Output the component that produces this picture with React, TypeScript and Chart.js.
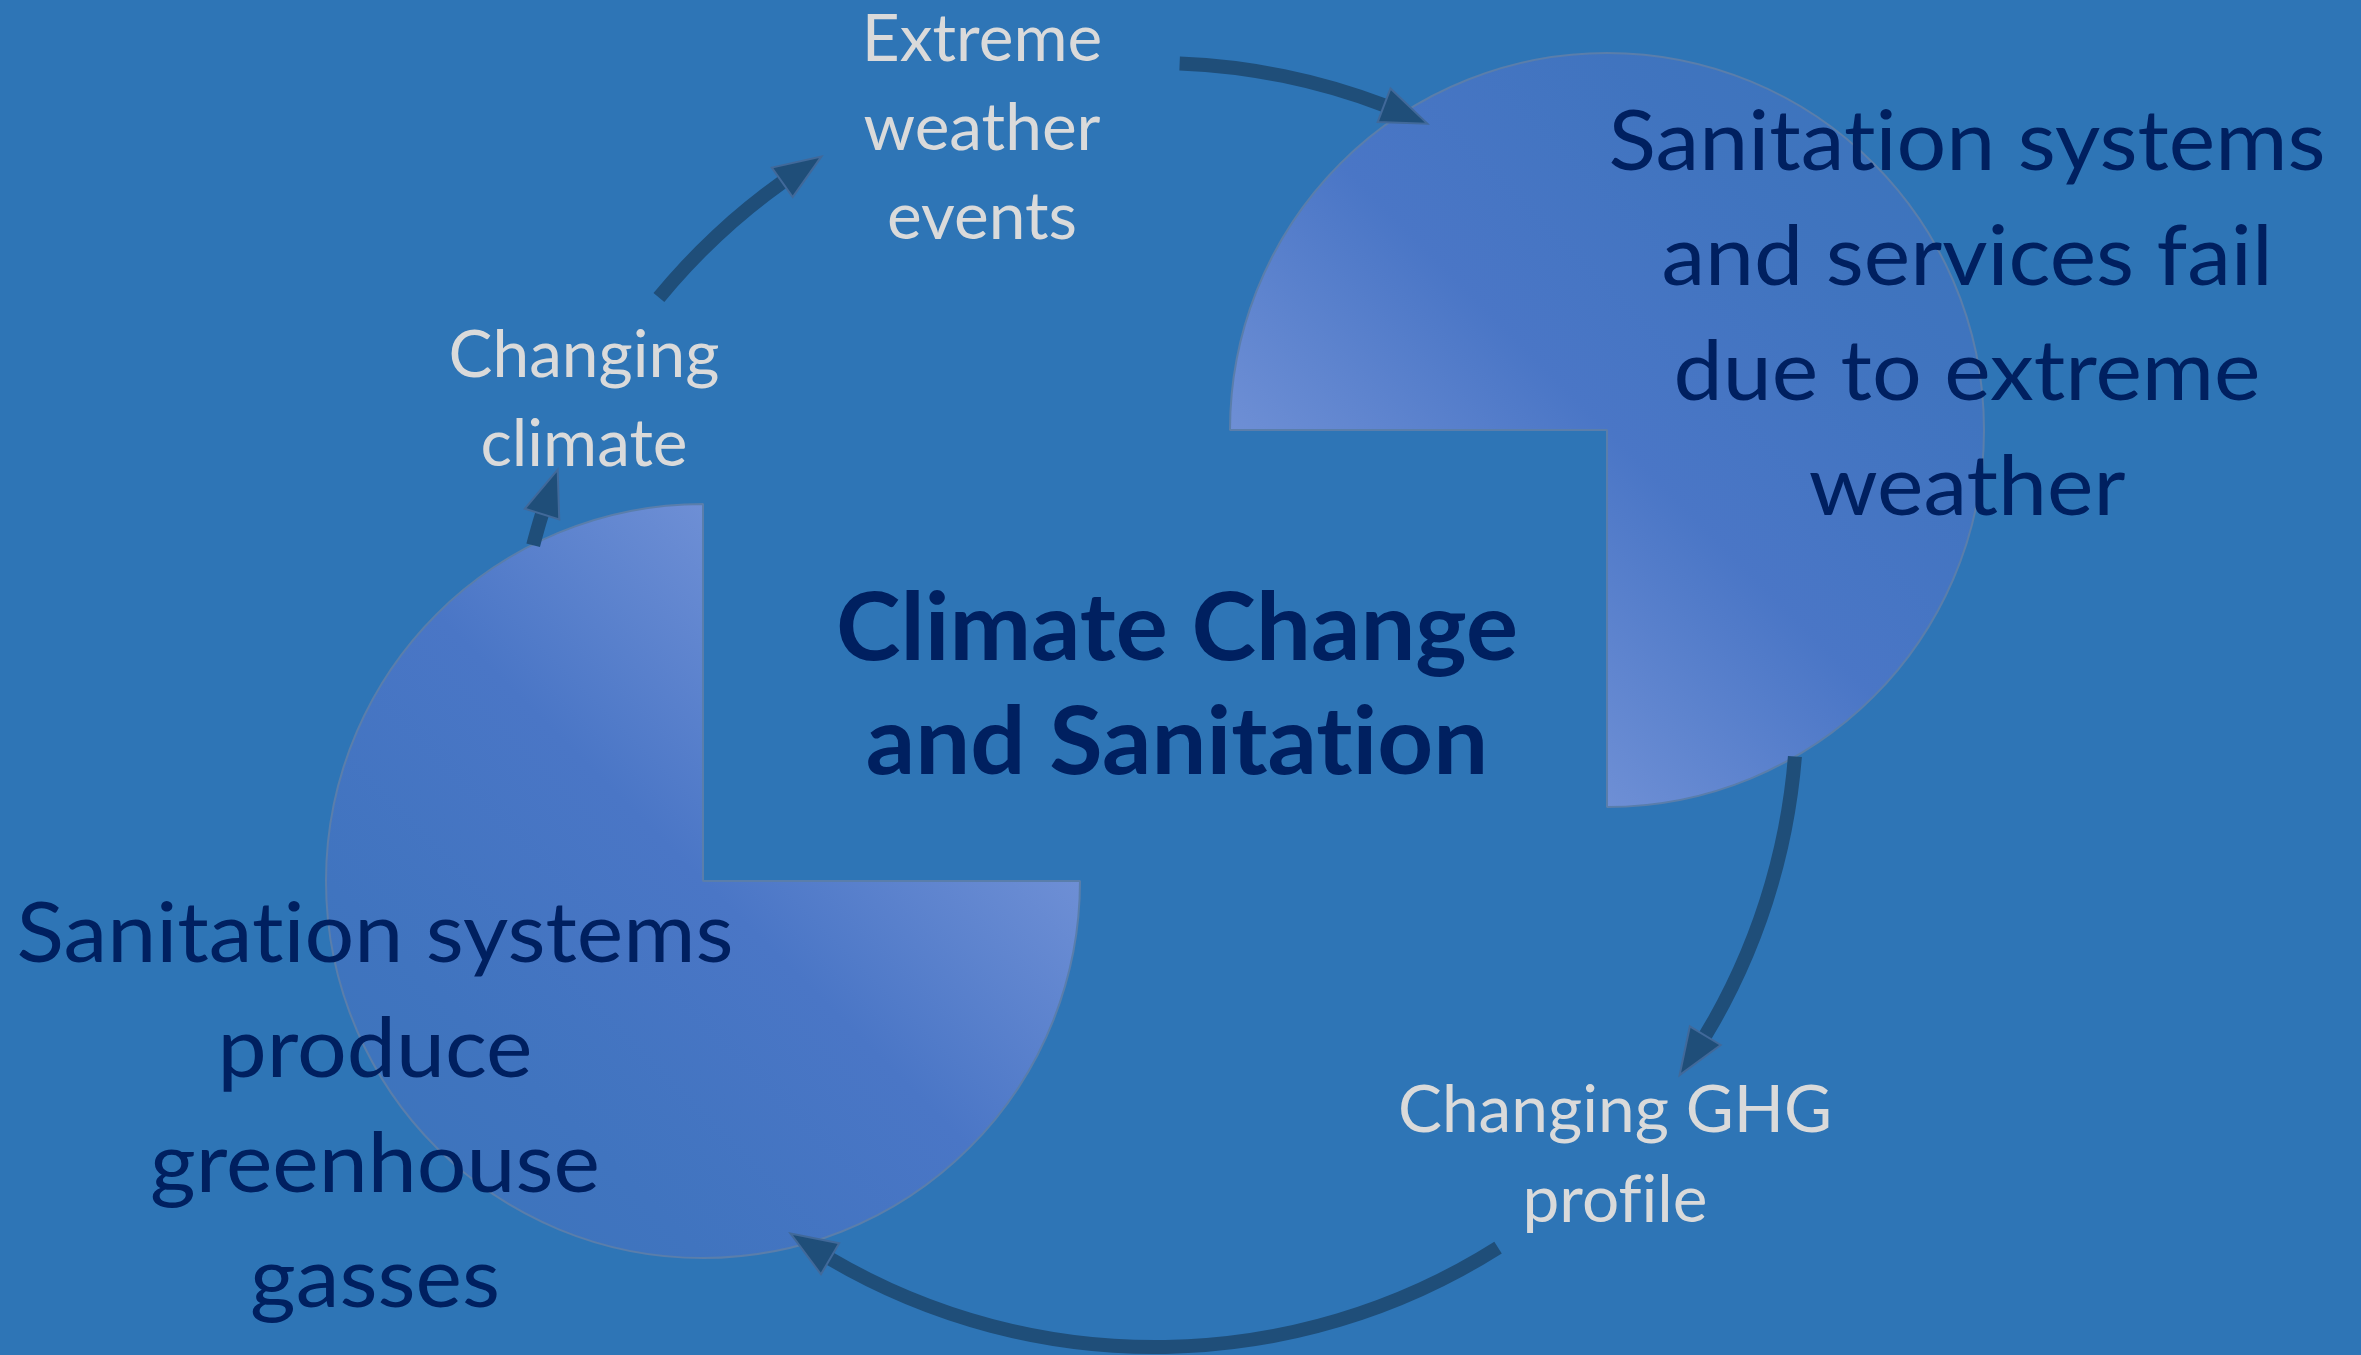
import React, { useEffect, useRef } from 'react';
import { Chart, registerables } from 'chart.js';

Chart.register(...registerables);

// ---------------- data ----------------
// each "pie" is a circle with one quarter left out
const pieSlices = [25, 75];
// cycle arrows along the big ring: start angle and tip angle (degrees, clockwise from 12 o'clock)
const arrowStartDeg = [2.2, 94.6, 147.7, 284.4, 309.4];
const arrowTipDeg = [25.1, 125.2, 214.6, 291.5, 328.7];
// texts
const leftPieLines = ['Sanitation systems', 'produce', 'greenhouse', 'gasses'];
const rightPieLines = ['Sanitation systems', 'and services fail', 'due to extreme', 'weather'];
const centerLines = ['Climate Change', 'and Sanitation'];
const stepExtremeLines = ['Extreme', 'weather', 'events'];
const stepClimateLines = ['Changing', 'climate'];
const stepGhgLines = ['Changing GHG', 'profile'];

// ---------------- layout / style ----------------
const W = 2361;
const H = 1355;
const BG = '#2e75b6';
const ARROW = '#1f4e79';
const ARROW_EDGE = '#41699a';
const RING = { cx: 1155, cy: 705, r: 642, thick: 14 };
const HEAD_LEN = 47;
const HEAD_W = 36;
const PIE_R = 377;
const PIE_PAD = 10;
const LEFT_PIE = { cx: 703, cy: 881, rotation: 0, flip: false };
const RIGHT_PIE = { cx: 1607, cy: 430, rotation: 180, flip: true };
const NAVY = '#002060';
const GREY = '#dadada';

const STYLES = {
  navy: { font: '84px Lato', color: NAVY, ref: 'Sanitation systems', refW: 717 },
  bold: { font: 'bold 93px Lato', color: NAVY, ref: 'Climate Change', refW: 682 },
  grey: { font: '65px Lato', color: GREY, ref: 'Changing GHG', refW: 434 },
};

const TEXT_BLOCKS = [
  { lines: stepExtremeLines, style: 'grey', x: 982, y0: 61, dy: 89 },
  { lines: stepClimateLines, style: 'grey', x: 584, y0: 377, dy: 89 },
  { lines: stepGhgLines, style: 'grey', x: 1615, y0: 1132, dy: 90 },
  { lines: rightPieLines, style: 'navy', x: 1967, y0: 170, dy: 115 },
  { lines: leftPieLines, style: 'navy', x: 375, y0: 962, dy: 115 },
  { lines: centerLines, style: 'bold', x: 1177, y0: 660, dy: 114 },
];

const TRANSPARENT = 'rgba(0,0,0,0)';
const ZWNJ = '\u200C';

// keep letters separate (no "ti"/"fi" ligatures, as in the original typeface)
function noLig(s: string) {
  return s.replace(/t(?=i)/g, 't' + ZWNJ).replace(/f(?=i)/g, 'f' + ZWNJ);
}

function buildRing() {
  const values: number[] = [];
  const colors: string[] = [];
  const arrowIdx: number[] = [];
  const headDeg = (HEAD_LEN / RING.r) * (180 / Math.PI);
  let cur = 0;
  arrowStartDeg.forEach((s, i) => {
    const stemEnd = arrowTipDeg[i] - headDeg;
    if (s > cur) {
      values.push(s - cur);
      colors.push(TRANSPARENT);
    }
    arrowIdx.push(values.length);
    values.push(stemEnd - s);
    colors.push(ARROW);
    cur = stemEnd;
  });
  values.push(360 - cur);
  colors.push(TRANSPARENT);
  return { values, colors, arrowIdx };
}

const arrowHeadPlugin = {
  id: 'arrowHeads',
  afterDatasetsDraw(chart: any) {
    const meta = chart.getDatasetMeta(0);
    const idxs: number[] = chart.options.plugins.arrowHeads.indices;
    const ctx = chart.ctx;
    ctx.save();
    idxs.forEach((i) => {
      const el: any = meta.data[i];
      if (!el) return;
      const { x, y, endAngle, outerRadius, innerRadius } = el;
      const r = (outerRadius + innerRadius) / 2;
      const bx = x + r * Math.cos(endAngle);
      const by = y + r * Math.sin(endAngle);
      const tipA = endAngle + HEAD_LEN / r;
      const tx = x + r * Math.cos(tipA);
      const ty = y + r * Math.sin(tipA);
      const nx = Math.cos(endAngle);
      const ny = Math.sin(endAngle);
      ctx.beginPath();
      ctx.moveTo(bx + nx * HEAD_W / 2, by + ny * HEAD_W / 2);
      ctx.lineTo(tx, ty);
      ctx.lineTo(bx - nx * HEAD_W / 2, by - ny * HEAD_W / 2);
      ctx.closePath();
      ctx.fillStyle = ARROW;
      ctx.fill();
      ctx.lineWidth = 2;
      ctx.lineJoin = 'miter';
      ctx.strokeStyle = ARROW_EDGE;
      ctx.stroke();
    });
    ctx.restore();
  },
};

const textPlugin = {
  id: 'diagramText',
  afterDraw(chart: any) {
    const ctx = chart.ctx;
    ctx.save();
    ctx.textAlign = 'center';
    ctx.textBaseline = 'alphabetic';
    TEXT_BLOCKS.forEach((b) => {
      const st = (STYLES as any)[b.style];
      ctx.font = st.font;
      ctx.fillStyle = st.color;
      const k = st.refW / ctx.measureText(noLig(st.ref)).width;
      b.lines.forEach((line: string, i: number) => {
        ctx.save();
        ctx.translate(b.x, b.y0 + i * b.dy);
        ctx.scale(k, 1);
        ctx.fillText(noLig(line), 0, 0);
        ctx.restore();
      });
    });
    ctx.restore();
  },
};

function pieGradient(chart: any, flip: boolean) {
  const area = chart.chartArea;
  if (!area) return '#4f7bc9';
  const cx = (area.left + area.right) / 2;
  const cy = (area.top + area.bottom) / 2;
  const R = PIE_R;
  const g = flip
    ? chart.ctx.createLinearGradient(cx - R, cy + R, cx + R, cy - R)
    : chart.ctx.createLinearGradient(cx + R, cy - R, cx - R, cy + R);
  g.addColorStop(0, '#7c9bdc');
  g.addColorStop(0.25, '#6e8fd5');
  g.addColorStop(0.5, '#4a76c6');
  g.addColorStop(0.75, '#4074bf');
  g.addColorStop(1, '#3a74ba');
  return g;
}

function makePie(canvas: HTMLCanvasElement, cfg: { rotation: number; flip: boolean }) {
  return new Chart(canvas, {
    type: 'pie',
    data: {
      labels: ['gap', 'segment'],
      datasets: [
        {
          data: pieSlices,
          backgroundColor: (c: any) => (c.dataIndex === 0 ? TRANSPARENT : pieGradient(c.chart, cfg.flip)),
          borderColor: [TRANSPARENT, '#5a7eab'],
          borderWidth: [0, 2],
          hoverOffset: 0,
        } as any,
      ],
    },
    options: {
      responsive: false,
      animation: false,
      events: [],
      rotation: cfg.rotation,
      radius: PIE_R,
      layout: { padding: 0 },
      plugins: { legend: { display: false }, tooltip: { enabled: false } },
    } as any,
  });
}

export default function App() {
  const mainRef = useRef<HTMLCanvasElement>(null);
  const leftRef = useRef<HTMLCanvasElement>(null);
  const rightRef = useRef<HTMLCanvasElement>(null);

  useEffect(() => {
    const ring = buildRing();
    const leftPie = makePie(leftRef.current!, LEFT_PIE);
    const rightPie = makePie(rightRef.current!, RIGHT_PIE);
    const half = 650;
    const main = new Chart(mainRef.current!, {
      type: 'doughnut',
      data: {
        labels: ring.values.map((_, i) => 'seg' + i),
        datasets: [
          {
            data: ring.values,
            backgroundColor: ring.colors,
            borderWidth: 0,
            hoverOffset: 0,
          } as any,
        ],
      },
      options: {
        responsive: false,
        animation: false,
        events: [],
        rotation: 0,
        radius: RING.r + RING.thick / 2,
        cutout: `${((RING.r - RING.thick / 2) / (RING.r + RING.thick / 2)) * 100}%`,
        layout: {
          padding: {
            left: RING.cx - half,
            right: W - (RING.cx + half),
            top: RING.cy - half,
            bottom: Math.max(0, H - (RING.cy + half)),
          },
        },
        plugins: {
          legend: { display: false },
          tooltip: { enabled: false },
          arrowHeads: { indices: ring.arrowIdx },
        },
      } as any,
      plugins: [arrowHeadPlugin, textPlugin],
    });
    let alive = true;
    if ((document as any).fonts && (document as any).fonts.ready) {
      (document as any).fonts.ready.then(() => {
        if (alive) main.draw();
      });
    }
    return () => {
      alive = false;
      main.destroy();
      leftPie.destroy();
      rightPie.destroy();
    };
  }, []);

  const size = 2 * (PIE_R + PIE_PAD);
  const pieStyle = (p: { cx: number; cy: number }): React.CSSProperties => ({
    position: 'absolute',
    left: p.cx - size / 2,
    top: p.cy - size / 2,
    width: size,
    height: size,
  });

  return (
    <div
      style={{
        position: 'fixed',
        left: 0,
        top: 0,
        width: W,
        height: H,
        overflow: 'hidden',
        background: BG,
      }}
    >
      <canvas ref={leftRef} width={size} height={size} style={pieStyle(LEFT_PIE)} />
      <canvas ref={rightRef} width={size} height={size} style={pieStyle(RIGHT_PIE)} />
      <canvas
        ref={mainRef}
        width={W}
        height={H}
        style={{ position: 'absolute', left: 0, top: 0, width: W, height: H }}
      />
    </div>
  );
}
